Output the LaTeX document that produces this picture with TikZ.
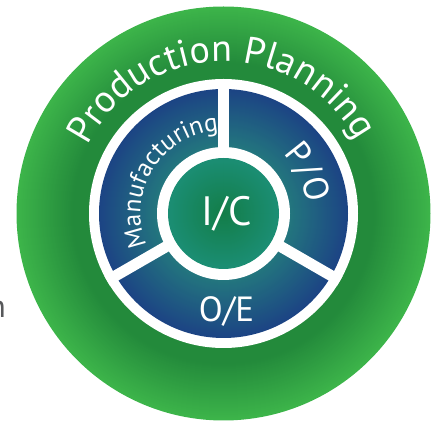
\documentclass[tikz,border=0pt]{standalone}
\usepackage{fontspec}
\setmainfont{PT Sans}
\usetikzlibrary{decorations.text,calc}
\definecolor{glight}{HTML}{3DB54A}
\definecolor{gdark}{HTML}{238A3B}
\definecolor{bnavy}{HTML}{1C4484}
\definecolor{bteal}{HTML}{23777E}
\definecolor{cedge}{HTML}{1B8E74}
\definecolor{cmid}{HTML}{137D48}
\definecolor{fraggray}{HTML}{58595B}
\newcommand\ppfont{\fontsize{38}{38}\selectfont}
\newcommand\mffont{\fontsize{25.5}{25.5}\selectfont}
\newcommand\pofont{\fontsize{35}{35}\selectfont}
\begin{document}
\begin{tikzpicture}[x=1pt,y=1pt,
  disc/.style={circle, inner sep=0pt, outer sep=0pt, minimum size=#1},
  sepline/.style={white, line width=11pt},
  lbl/.style={text=white, inner sep=0pt, anchor=base}]
\useasboundingbox (0,0) rectangle (440,423);
\coordinate (c) at (223.5,209.5);
% outer green disc with radial gradient
\node[disc=414] (outer) at (c) {};
\foreach \r in {207,206,...,134}{
  \pgfmathsetmacro\t{min(100,(207-\r)/(207-150)*100)}
  \fill[gdark!\t!glight] (c) circle[radius=\r];
}
\node[disc=269, fill=white] (ring) at (c) {};
% blue band with radial gradient
\node[disc=249] (band) at (c) {};
\foreach \r in {124.5,123.5,...,66}{
  \pgfmathsetmacro\t{(124.5-\r)/(124.5-66)*100}
  \fill[bteal!\t!bnavy] (c) circle[radius=\r];
}
\foreach \a in {90,210,330} \draw[sepline] (c) -- (ring.\a);
\node[disc=133, fill=white] (hubring) at (c) {};
% hub with radial gradient
\node[disc=111] (hub) at (c) {};
\foreach \r in {55.5,54.5,...,0.5}{
  \pgfmathsetmacro\t{(55.5-\r)/55.5*100}
  \fill[cmid!\t!cedge] (c) circle[radius=\r];
}
\node[lbl, font=\fontsize{41}{41}\selectfont] (ic) at (226.5,197) {I/C};
\node[lbl, font=\pofont] (oe) at (226.5,101) {O/E};
\path[decorate, decoration={text along path, text={|\ppfont|Production Planning}, text color=white, text align=center}]
  ($(c)+(181:152)$) arc[start angle=181, end angle=1, radius=152];
\path[decorate, decoration={text along path, text={|\mffont|Manufacturing}, text color=white, text align=center}]
  ($(c)+(208:83)$) arc[start angle=208, end angle=88, radius=83];
\path[decorate, decoration={text along path, text={|\pofont|P/O}, text color=white, text align=center}]
  ($(c)+(86:84)$) arc[start angle=86, end angle=-34, radius=84];
\node[anchor=base east, inner sep=0pt, text=fraggray, font=\fontsize{32}{32}\selectfont] (frag) at (6,105) {n};
\end{tikzpicture}
\end{document}
